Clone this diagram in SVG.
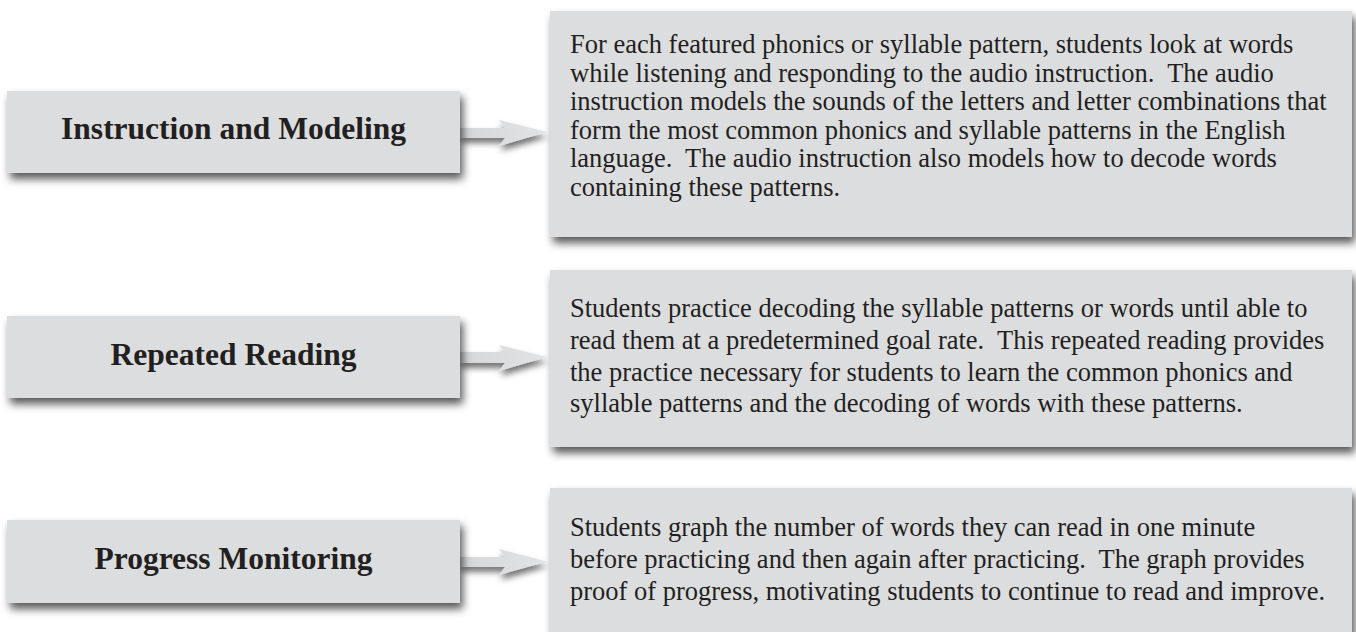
<svg xmlns="http://www.w3.org/2000/svg" width="1356" height="632" viewBox="0 0 1356 632">
<defs>
<filter id="sh" x="-10%" y="-30%" width="120%" height="170%">
<feDropShadow dx="3" dy="6" stdDeviation="4" flood-color="#000" flood-opacity="0.65"/>
</filter>
<filter id="ash" x="-20%" y="-50%" width="140%" height="250%">
<feDropShadow dx="1" dy="5" stdDeviation="3" flood-color="#000" flood-opacity="0.55"/>
</filter>
<linearGradient id="ag" x1="0" y1="0" x2="1" y2="0">
<stop offset="0" stop-color="#d6d7d9"/>
<stop offset="1" stop-color="#e2e3e5"/>
</linearGradient>
</defs>
<style>
.box{fill:#dcdddf;filter:url(#sh)}
.lbl{font-family:"Liberation Serif","Times New Roman",serif;font-weight:bold;font-size:31.5px;fill:#231f20;text-anchor:middle}
.txt{font-family:"Liberation Serif","Times New Roman",serif;font-size:26.5px;fill:#231f20;white-space:pre}
.arr{fill:url(#ag);filter:url(#ash)}
</style>
<rect width="1356" height="632" fill="#ffffff"/>
<g id="connectors">
<polygon class="arr" points="460,128 505,128 499,120 547,132 499,146 505,138 460,138"/>
<polygon class="arr" points="460,352 505,352 499,345 547,357 499,371 505,363 460,363"/>
<polygon class="arr" points="460,557 505,557 499,549 547,561.5 499,575 505,567 460,567"/>
</g>
<g id="instruction-label">
<rect class="box" x="7" y="91" width="453" height="82"/>
<text class="lbl" x="233.5" y="139">Instruction and Modeling</text>
</g>
<g id="instruction-text">
<rect class="box" x="550" y="11" width="802" height="226"/>
<text class="txt" xml:space="preserve"><tspan x="570" y="53">For each featured phonics or syllable pattern, students look at words</tspan><tspan x="570" y="81.6">while listening and responding to the audio instruction.  The audio</tspan><tspan x="570" y="110.2">instruction models the sounds of the letters and letter combinations that</tspan><tspan x="570" y="138.8">form the most common phonics and syllable patterns in the English</tspan><tspan x="570" y="167.4">language.  The audio instruction also models how to decode words</tspan><tspan x="570" y="196">containing these patterns.</tspan></text>
</g>
<g id="repeated-label">
<rect class="box" x="7" y="316" width="453" height="82"/>
<text class="lbl" x="233.5" y="365">Repeated Reading</text>
</g>
<g id="repeated-text">
<rect class="box" x="550" y="270" width="802" height="177"/>
<text class="txt" xml:space="preserve"><tspan x="570" y="316.5">Students practice decoding the syllable patterns or words until able to</tspan><tspan x="570" y="348.5">read them at a predetermined goal rate.  This repeated reading provides</tspan><tspan x="570" y="380.5">the practice necessary for students to learn the common phonics and</tspan><tspan x="570" y="412">syllable patterns and the decoding of words with these patterns.</tspan></text>
</g>
<g id="progress-label">
<rect class="box" x="7" y="520" width="453" height="83"/>
<text class="lbl" x="233.5" y="569">Progress Monitoring</text>
</g>
<g id="progress-text">
<rect class="box" x="550" y="488" width="802" height="160"/>
<text class="txt" xml:space="preserve"><tspan x="570" y="536">Students graph the number of words they can read in one minute</tspan><tspan x="570" y="568">before practicing and then again after practicing.  The graph provides</tspan><tspan x="570" y="600">proof of progress, motivating students to continue to read and improve.</tspan></text>
</g>
</svg>
